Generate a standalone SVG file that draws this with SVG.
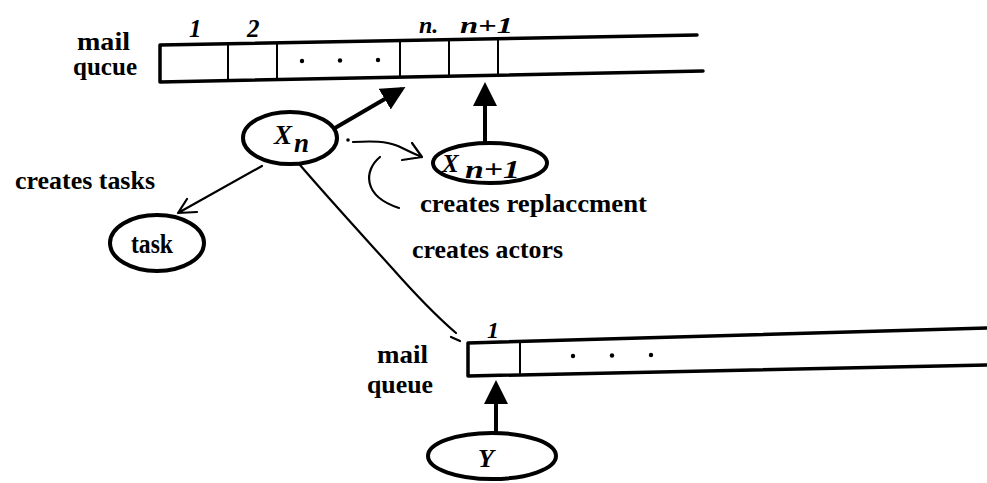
<svg xmlns="http://www.w3.org/2000/svg" width="987" height="483" viewBox="0 0 987 483">
<defs>
<style>
.t{font-family:"Liberation Serif","Times New Roman",serif;font-weight:bold;fill:#000}
.i{font-family:"Liberation Serif","Times New Roman",serif;font-weight:bold;font-style:italic;fill:#000}
.box{fill:none;stroke:#000;stroke-width:3.5;stroke-linejoin:round;stroke-linecap:round}
.div{fill:none;stroke:#000;stroke-width:2}
.node{fill:#fff;stroke:#000;stroke-width:4}
.thick{fill:none;stroke:#000;stroke-width:4}
.thin{fill:none;stroke:#000;stroke-width:2.2;stroke-linecap:round;stroke-linejoin:round}
.dot{fill:#000}
</style>
<marker id="fh" markerWidth="6" markerHeight="6" refX="5" refY="3" orient="auto" markerUnits="strokeWidth">
<path d="M0,0 L6,3 L0,6 Z" fill="#000"/>
</marker>
</defs>
<rect width="987" height="483" fill="#fff"/>

<g id="top-queue">
<path class="box" d="M697,35 L160,45 L160,82 L703,71"/>
<line class="div" x1="228" y1="43.7" x2="228" y2="80.6"/>
<line class="div" x1="277" y1="42.8" x2="277" y2="79.6"/>
<line class="div" x1="400" y1="40.5" x2="400" y2="77.1"/>
<line class="div" x1="449" y1="39.6" x2="449" y2="76.1"/>
<line class="div" x1="498" y1="38.7" x2="498" y2="75.2"/>
<circle class="dot" cx="302" cy="61" r="2.2"/>
<circle class="dot" cx="340" cy="60.5" r="2.2"/>
<circle class="dot" cx="378" cy="60" r="2.2"/>
<text class="t" x="77" y="50" font-size="25" textLength="53" lengthAdjust="spacingAndGlyphs">mail</text>
<text class="t" x="73" y="75" font-size="25" textLength="64" lengthAdjust="spacingAndGlyphs">qucue</text>
<text class="i" x="189" y="37" font-size="25">1</text>
<text class="i" x="247" y="37" font-size="25">2</text>
<text class="i" x="419" y="33" font-size="24">n.</text>
<text class="i" x="460" y="33" font-size="24" textLength="53" lengthAdjust="spacingAndGlyphs">n+1</text>
</g>

<g id="bottom-queue">
<path class="box" d="M987,328 L468,343 L468,376 L987,365"/>
<line class="div" x1="520" y1="341.5" x2="520" y2="375"/>
<circle class="dot" cx="573" cy="356" r="2.2"/>
<circle class="dot" cx="612" cy="355.5" r="2.2"/>
<circle class="dot" cx="651" cy="355" r="2.2"/>
<text class="t" x="377" y="363" font-size="25" textLength="51" lengthAdjust="spacingAndGlyphs">mail</text>
<text class="t" x="367" y="393" font-size="25" textLength="66" lengthAdjust="spacingAndGlyphs">queue</text>
<text class="i" x="487" y="338" font-size="24">1</text>
</g>

<g id="connectors">
<line class="thick" x1="335" y1="128" x2="402" y2="89" marker-end="url(#fh)"/>
<line class="thick" x1="485" y1="143" x2="485" y2="86" marker-end="url(#fh)"/>
<line class="thick" x1="496" y1="433" x2="496" y2="384" marker-end="url(#fh)"/>
<path class="thin" d="M262,166 L178,213 M178,213 L187,199 M178,213 L197,212"/>
<circle class="dot" cx="348" cy="140" r="1.8"/>
<path class="thin" d="M353,142 C372,141 386,141 398,146 C407,150 414,154 422,157 M412,143 L422,157 L402,160"/>
<path class="thin" d="M380,157 C364,170 362,196 399,208"/>
<path class="thin" d="M300,165 C330,200 365,238 392,268 C415,294 435,315 456,333 M451,337 L460,341"/>
</g>

<g id="xn">
<ellipse class="node" cx="290" cy="138" rx="47" ry="26"/>
<text class="i" x="274" y="144" font-size="27">X</text>
<text class="i" x="294" y="152" font-size="27">n</text>
</g>

<g id="xn1">
<ellipse class="node" cx="490" cy="163" rx="57" ry="20"/>
<text class="i" x="442" y="172" font-size="25">X</text>
<text class="i" x="465" y="178" font-size="25" textLength="55" lengthAdjust="spacingAndGlyphs">n+1</text>
</g>

<g id="task">
<ellipse class="node" cx="157" cy="243" rx="47" ry="28"/>
<text class="t" x="152" y="253" font-size="27" text-anchor="middle" textLength="42" lengthAdjust="spacingAndGlyphs">task</text>
</g>

<g id="y">
<ellipse class="node" cx="492" cy="456" rx="64" ry="23"/>
<text class="i" x="486" y="467" font-size="26" text-anchor="middle">Y</text>
</g>

<g id="labels">
<text class="t" x="15" y="189" font-size="25" textLength="140" lengthAdjust="spacingAndGlyphs">creates tasks</text>
<text class="t" x="420" y="212" font-size="25" textLength="227" lengthAdjust="spacingAndGlyphs">creates replaccment</text>
<text class="t" x="412" y="258" font-size="25" textLength="151" lengthAdjust="spacingAndGlyphs">creates actors</text>
</g>
</svg>
